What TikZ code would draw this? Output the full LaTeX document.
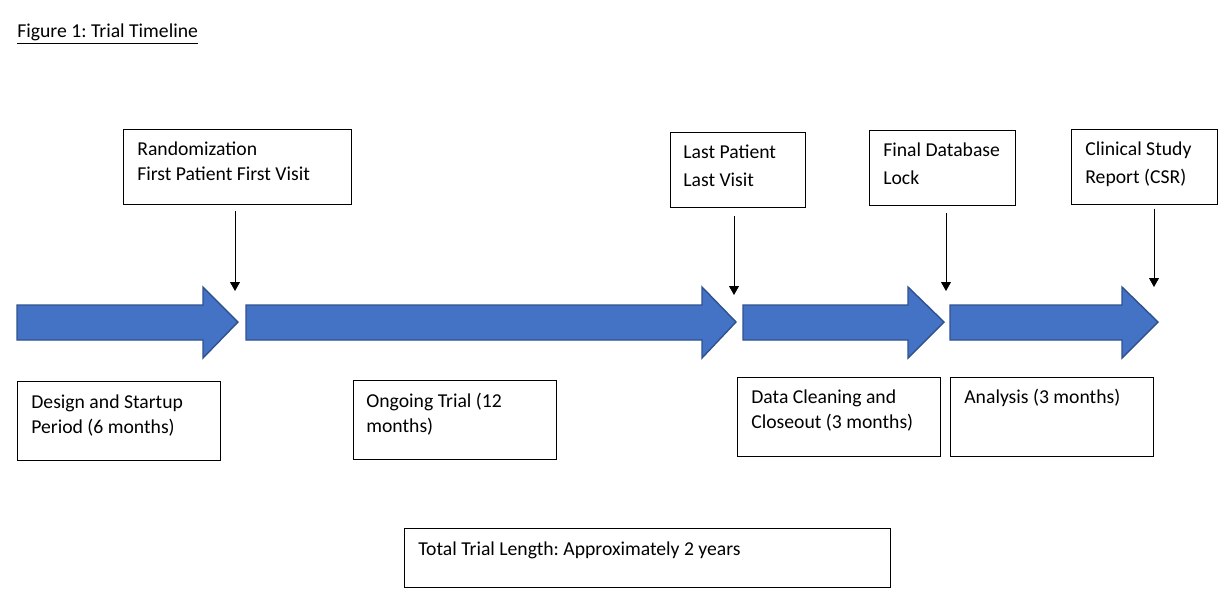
\documentclass[tikz,border=0pt]{standalone}
\usepackage{fontspec}
\setmainfont{Carlito}
\frenchspacing
\usetikzlibrary{arrows.meta}
\definecolor{phasefill}{HTML}{4472C4}
\definecolor{phaseline}{HTML}{2F528F}
\newcommand{\unitpx}{0.02cm}
\begin{document}
\begin{tikzpicture}[x=0.02cm, y=-0.02cm]
 \tikzset{box/.style={draw, line width=0.6pt, anchor=north west, inner sep=0pt},
  txt/.style={anchor=north west, inner sep=0pt, align=left, font=\fontsize{11.2}{14}\selectfont},
  phase/.style={fill=phasefill, draw=phaseline, line width=0.8pt},
  marker/.style={line width=0.5pt, -{Triangle[length=5pt,width=5.5pt]}}}
  \useasboundingbox (0,0) rectangle (1232,603);
  \node[txt] (title) at (17,20) {\strut\underline{Figure 1: Trial Timeline}};
  % milestone boxes
  \node[box, minimum width=228*\unitpx, minimum height=75*\unitpx] (rand) at (123,129) {};
  \node[box, minimum width=135*\unitpx, minimum height=75*\unitpx] (lplv) at (670,132) {};
  \node[box, minimum width=146*\unitpx, minimum height=75*\unitpx] (fdbl) at (869,130) {};
  \node[box, minimum width=146*\unitpx, minimum height=75*\unitpx] (csr) at (1071,129) {};
  \node[txt] (rand-t) at (137,138) {\strut Randomization\\First Patient First Visit};
  \node[txt] (lplv-t) at (683,141) {\strut Last Patient\\[2pt]Last Visit};
  \node[txt] (fdbl-t) at (883,139) {\strut Final Database\\[2pt]Lock};
  \node[txt] (csr-t) at (1085,138) {\strut Clinical Study\\[2pt]Report (CSR)};
  % phase boxes
  \node[box, minimum width=203*\unitpx, minimum height=79*\unitpx] (design) at (17,381) {};
  \node[box, minimum width=203*\unitpx, minimum height=79*\unitpx] (ongoing) at (353,380) {};
  \node[box, minimum width=203*\unitpx, minimum height=79*\unitpx] (clean) at (737,377) {};
  \node[box, minimum width=203*\unitpx, minimum height=79*\unitpx] (analysis) at (950,377) {};
  \node[box, minimum width=486*\unitpx, minimum height=59*\unitpx] (total) at (404,528) {};
  \node[txt] (design-t) at (31,391) {\strut Design and Startup\\Period (6 months)};
  \node[txt] (ongoing-t) at (366,390) {\strut Ongoing Trial (12\\months)};
  \node[txt] (clean-t) at (751,386) {\strut Data Cleaning and\\Closeout (3 months)};
  \node[txt] (analysis-t) at (964,386) {\strut Analysis (3 months)};
  \node[txt] (total-t) at (418,538) {\strut Total Trial Length: Approximately 2 years};
  % timeline arrows
  \foreach \s/\b/\t in {17/203/238, 246/702/736, 743/908/944, 950/1122/1158}
    \draw[phase] (\s,305) -- (\b,305) -- (\b,287) -- (\t,322) -- (\b,358) -- (\b,340) -- (\s,340) -- cycle;
  \coordinate (m1) at (235,291);
  \coordinate (m2) at (734,295);
  \coordinate (m3) at (946,291);
  \coordinate (m4) at (1154,287);
  \draw[marker, shorten <=3.5pt] (rand.south -| m1) -- (m1);
  \draw[marker, shorten <=4.5pt] (lplv.south -| m2) -- (m2);
  \draw[marker, shorten <=4pt] (fdbl.south -| m3) -- (m3);
  \draw[marker, shorten <=2pt] (csr.south -| m4) -- (m4);
\end{tikzpicture}
\end{document}
